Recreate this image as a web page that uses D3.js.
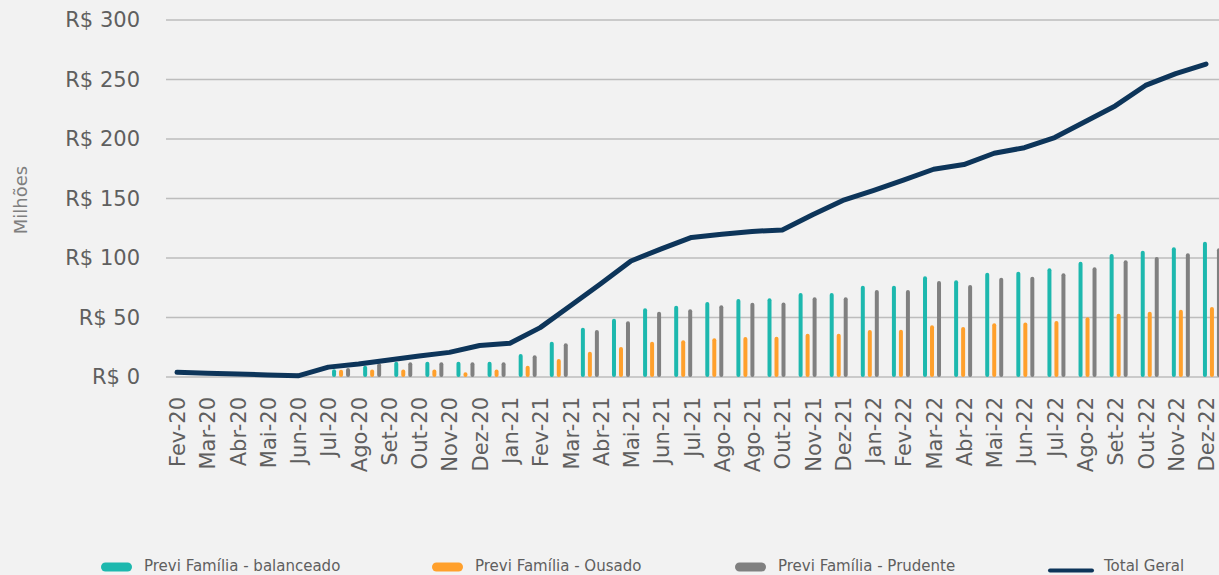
<!DOCTYPE html>
<html><head><meta charset="utf-8">
<script src="https://cdn.jsdelivr.net/npm/d3@7"></script>
<style>
html,body{margin:0;padding:0;background:#f2f2f2;overflow:hidden;}
svg{display:block;font-family:"DejaVu Sans",sans-serif;}
</style></head>
<body>
<svg id="chart" width="1219" height="575"></svg>
<script>
// ---- data ----
const monthLabels = ["Fev-20","Mar-20","Abr-20","Mai-20","Jun-20","Jul-20","Ago-20","Set-20","Out-20","Nov-20","Dez-20",
  "Jan-21","Fev-21","Mar-21","Abr-21","Mai-21","Jun-21","Jul-21","Ago-21","Ago-21","Out-21","Nov-21","Dez-21",
  "Jan-22","Fev-22","Mar-22","Abr-22","Mai-22","Jun-22","Jul-22","Ago-22","Set-22","Out-22","Nov-22","Dez-22"];
const totalGeral = [3.9,3.2,2.5,1.7,1.0,8.3,10.9,14.3,17.6,20.7,26.5,28.3,41.5,59.8,78.3,97.5,107.7,117.3,120,122.3,123.6,
  136.4,148.4,156.7,165.4,174.6,178.5,188,192.7,201.2,214.5,227.8,245,255,263];
const barMonths = ["Ago-20","Set-20","Out-20","Nov-20","Dez-20","Jan-21","Fev-21","Mar-21","Abr-21","Mai-21","Jun-21","Jul-21",
  "Ago-21","Set-21","Out-21","Nov-21","Dez-21","Jan-22","Fev-22","Mar-22","Abr-22","Mai-22","Jun-22","Jul-22","Ago-22",
  "Set-22","Out-22","Nov-22","Dez-22"];
const balanceado = [6.5,9.5,12.9,12.9,12.9,12.9,19.3,29.7,41.4,49,57.7,59.9,63,65.5,66.1,70.6,70.6,76.7,76.7,84.6,81.2,87.7,88.5,91.3,96.9,103.4,106.1,109,113.7];
const ousado = [6,6.4,6.4,6.4,3.9,6.4,9.5,15.1,21.3,25.2,29.7,30.8,32.5,33.6,33.9,36.4,36.4,39.5,39.8,43.4,42,45.1,45.7,47.1,50.2,53.2,54.9,56.6,58.8];
const prudente = [7.5,11.5,12.3,12.3,12.3,12.3,18.2,28.3,39.5,46.8,54.9,56.9,60.2,62.5,62.7,67,67,73.1,73.1,80.7,77.3,83.5,84.3,87.1,92.2,98.1,100.8,103.9,108.2];
const yTicks = [0,50,100,150,200,250,300];
const seriesNames = ["Previ Família - balanceado","Previ Família - Ousado","Previ Família - Prudente"];
const lineName = "Total Geral";

// ---- style ----
const colors = ["#1db8ae","#ffa02c","#808080"];
const lineColor = "#0d355a";
const textColor = "#5f5f5f";

const svg = d3.select("#chart");
const plotTop = 20, plotBottom = 377, gridLeft = 166, gridRight = 1240;

const y = d3.scaleLinear().domain([0,300]).range([plotBottom, plotTop]);
const xLine = d3.scalePoint().domain(d3.range(monthLabels.length)).range([177, 1206]);
const xBar = d3.scaleBand().domain(barMonths).range([325.5, 1227.5]);
const xInner = d3.scalePoint().domain([0,1,2]).range([-7,7]);
const barW = 4;

// gridlines
svg.append("g").selectAll("line").data(yTicks).join("line")
  .attr("x1", gridLeft).attr("x2", gridRight)
  .attr("y1", d => y(d)).attr("y2", d => y(d))
  .attr("stroke", "#bdbdbd").attr("stroke-width", 1.5);

// y axis labels
const yAxis = d3.axisLeft(y).tickValues(yTicks).tickSize(0).tickPadding(0).tickFormat(d => "R$ " + d);
svg.append("g").attr("transform","translate(140,0)").call(yAxis)
  .call(g => g.select(".domain").remove())
  .selectAll("text").attr("font-size", 21).attr("fill", textColor)
  .attr("font-family", "DejaVu Sans, sans-serif");

// y title
svg.append("text").attr("transform","translate(27,200) rotate(-90)")
  .attr("text-anchor","middle").attr("font-size",18).attr("fill","#7f7f7f").text("Milhões");

// x axis labels
const xAxis = d3.axisBottom(xLine).tickSize(0).tickPadding(0).tickFormat(i => monthLabels[i]);
svg.append("g").attr("transform","translate(0,397)").call(xAxis)
  .call(g => g.select(".domain").remove())
  .selectAll("text")
  .attr("font-size", 21).attr("fill", textColor).attr("font-family","DejaVu Sans, sans-serif")
  .attr("text-anchor","end").attr("transform","rotate(-90)")
  .attr("x", 0).attr("y", 0).attr("dy","0.36em");

// bars
const barSeries = [balanceado, ousado, prudente];
barSeries.forEach((vals, s) => {
  svg.append("g").selectAll("rect").data(vals).join("rect")
    .attr("x", (d,i) => xBar(barMonths[i]) + xBar.bandwidth()/2 + xInner(s) - barW/2)
    .attr("width", barW)
    .attr("y", d => y(d))
    .attr("height", d => y(0) - y(d))
    .attr("rx", 2)
    .attr("fill", colors[s]);
});

// line
const line = d3.line().x((d,i) => xLine(i)).y(d => y(d));
svg.append("path").datum(totalGeral).attr("d", line)
  .attr("fill","none").attr("stroke", lineColor).attr("stroke-width", 5)
  .attr("stroke-linejoin","round").attr("stroke-linecap","round");

// legend
const legendItems = [
  {name: seriesNames[0], color: colors[0], x: 101, type: "pill"},
  {name: seriesNames[1], color: colors[1], x: 432, type: "pill"},
  {name: seriesNames[2], color: colors[2], x: 735, type: "pill"},
  {name: lineName, color: lineColor, x: 1048, type: "line"}
];
const lg = svg.append("g");
legendItems.forEach(it => {
  if (it.type === "pill") {
    lg.append("rect").attr("x", it.x).attr("y", 562.5).attr("width", 31).attr("height", 9)
      .attr("rx", 4.5).attr("fill", it.color);
    lg.append("text").attr("x", it.x + 43).attr("y", 571).attr("font-size", 15)
      .attr("fill", textColor).text(it.name);
  } else {
    lg.append("line").attr("x1", it.x + 2).attr("x2", it.x + 44).attr("y1", 570.5).attr("y2", 570.5)
      .attr("stroke", it.color).attr("stroke-width", 4).attr("stroke-linecap","round");
    lg.append("text").attr("x", it.x + 56).attr("y", 571).attr("font-size", 15)
      .attr("fill", textColor).text(it.name);
  }
});
</script>
</body></html>
